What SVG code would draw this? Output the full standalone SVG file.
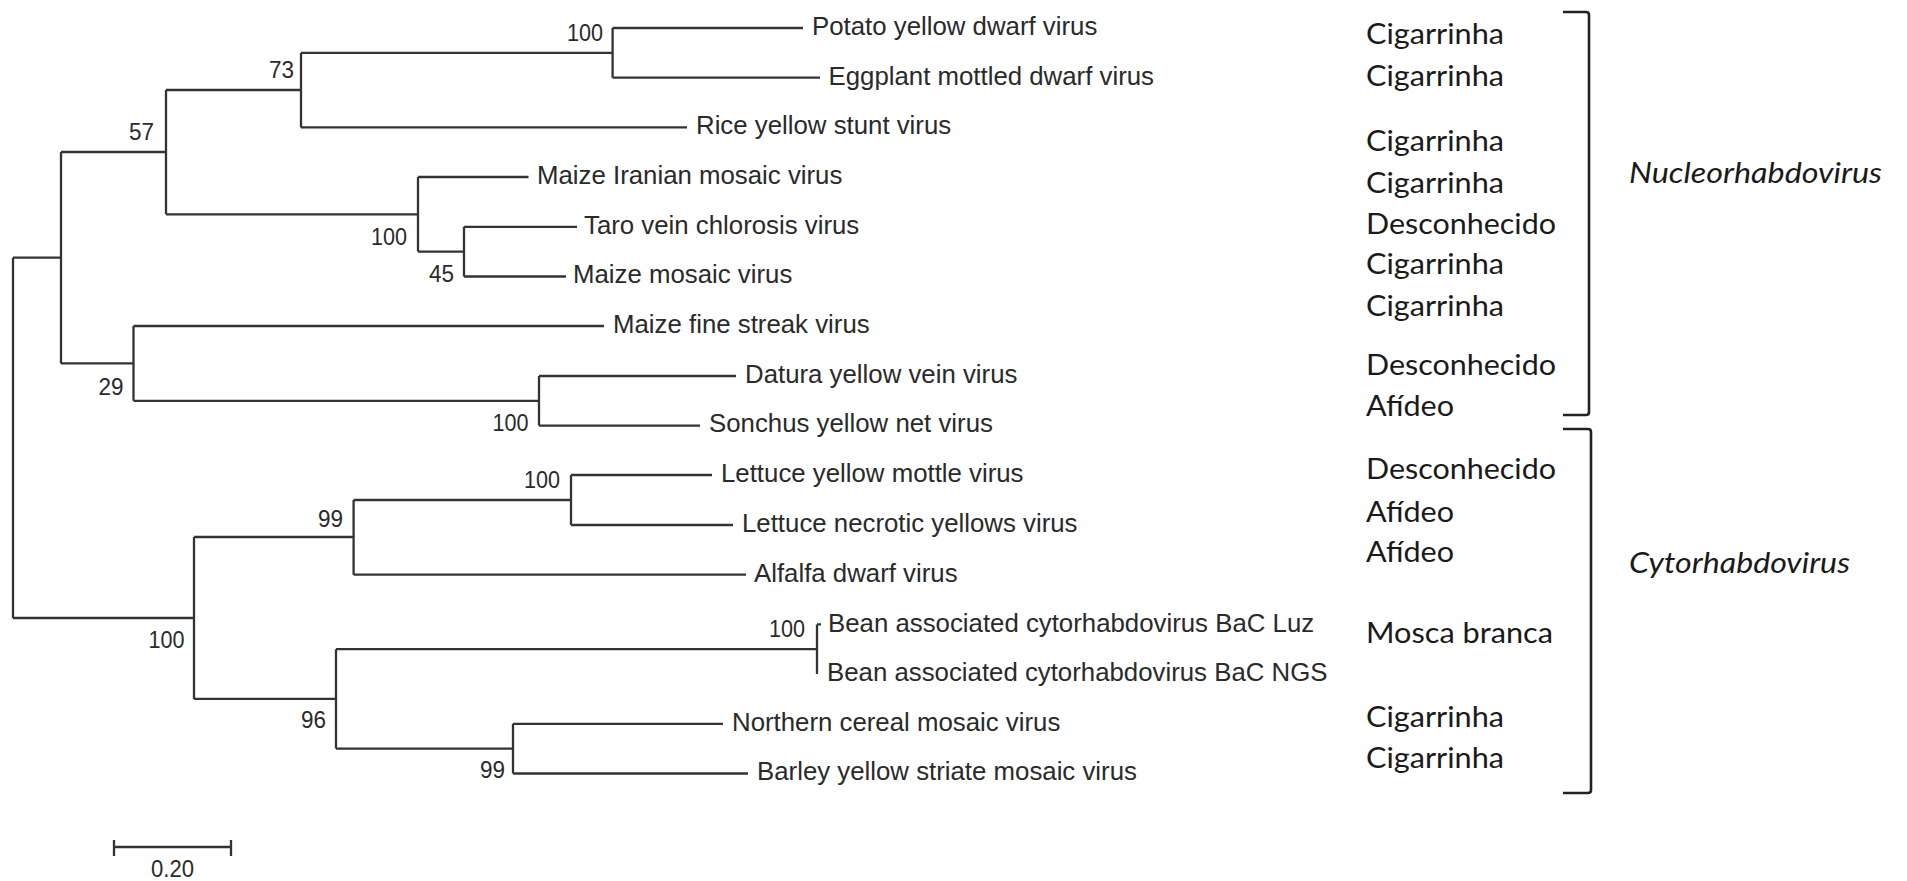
<svg xmlns="http://www.w3.org/2000/svg" width="1907" height="881" viewBox="0 0 1907 881">
<style>
  .br { fill: none; stroke: #333; stroke-width: 2.3; stroke-linejoin: miter; }
  .bk { fill: none; stroke: #222; stroke-width: 2.6; }
  .leaf { font-family: "Liberation Sans", Arial, sans-serif; font-size: 25.8px; fill: #2a2a2a; }
  .bs { font-family: "Liberation Sans", Arial, sans-serif; font-size: 24px; fill: #2a2a2a; text-anchor: end; }
  .vec { font-family: Lato, "Open Sans", sans-serif; font-size: 28px; fill: #1a1a1a; }
  .gen { font-family: Lato, "Open Sans", sans-serif; font-size: 28px; font-style: italic; fill: #1a1a1a; }
</style>
<rect width="1907" height="881" fill="#fff"/>

<g id="connectors">
  <path class="br" d="M13,257.7 V618 M13,257.7 H61 M13,618 H194
    M61,152 V363.4 M61,152 H166 M61,363.4 H133.5
    M166,90 V214.3 M166,90 H301 M166,214.3 H418
    M301,52.9 V127.4 M301,52.9 H612.6 M301,127.4 H687
    M612.6,28 V77.7 M612.6,28 H803 M612.6,77.7 H820
    M418,177 V251.6 M418,177 H528.5 M418,251.6 H464
    M464,226.8 V276.5 M464,226.8 H577 M464,276.5 H566
    M133.5,326 V400.8 M133.5,326 H604 M133.5,400.8 H539
    M539,376 V425.6 M539,376 H736 M539,425.6 H700
    M194,537 V698.9 M194,537 H353.6 M194,698.9 H336
    M353.6,500 V574.7 M353.6,500 H571 M353.6,574.7 H746
    M571,475 V525 M571,475 H712 M571,525 H733
    M336,649.2 V748.6 M336,649.2 H817 M336,748.6 H513
    M817,624.4 V674 M817,624.4 H821
    M513,723.8 V773.5 M513,723.8 H723 M513,773.5 H748"/>
</g>

<g id="bootstrap">
  <text class="bs" x="603" y="41" textLength="36" lengthAdjust="spacingAndGlyphs">100</text>
  <text class="bs" x="294" y="78" textLength="25" lengthAdjust="spacingAndGlyphs">73</text>
  <text class="bs" x="154" y="140" textLength="25" lengthAdjust="spacingAndGlyphs">57</text>
  <text class="bs" x="407" y="245" textLength="36" lengthAdjust="spacingAndGlyphs">100</text>
  <text class="bs" x="454" y="282" textLength="25" lengthAdjust="spacingAndGlyphs">45</text>
  <text class="bs" x="123.5" y="395" textLength="25" lengthAdjust="spacingAndGlyphs">29</text>
  <text class="bs" x="528.5" y="431" textLength="36" lengthAdjust="spacingAndGlyphs">100</text>
  <text class="bs" x="560" y="488" textLength="36" lengthAdjust="spacingAndGlyphs">100</text>
  <text class="bs" x="343" y="527" textLength="25" lengthAdjust="spacingAndGlyphs">99</text>
  <text class="bs" x="184.5" y="648" textLength="36" lengthAdjust="spacingAndGlyphs">100</text>
  <text class="bs" x="805" y="637" textLength="36" lengthAdjust="spacingAndGlyphs">100</text>
  <text class="bs" x="326" y="728" textLength="25" lengthAdjust="spacingAndGlyphs">96</text>
  <text class="bs" x="505" y="778" textLength="25" lengthAdjust="spacingAndGlyphs">99</text>
</g>

<g id="leaf-pydv"><text class="leaf" x="812" y="34.8">Potato yellow dwarf virus</text></g>
<g id="leaf-emdv"><text class="leaf" x="828.5" y="84.5">Eggplant mottled dwarf virus</text></g>
<g id="leaf-rysv"><text class="leaf" x="696" y="134.2">Rice yellow stunt virus</text></g>
<g id="leaf-mimv"><text class="leaf" x="537" y="183.8">Maize Iranian mosaic virus</text></g>
<g id="leaf-tavcv"><text class="leaf" x="584" y="233.6">Taro vein chlorosis virus</text></g>
<g id="leaf-mmv"><text class="leaf" x="573" y="283.3">Maize mosaic virus</text></g>
<g id="leaf-mfsv"><text class="leaf" x="613" y="332.8">Maize fine streak virus</text></g>
<g id="leaf-dyvv"><text class="leaf" x="745" y="382.8">Datura yellow vein virus</text></g>
<g id="leaf-synv"><text class="leaf" x="709" y="432.4">Sonchus yellow net virus</text></g>
<g id="leaf-lymov"><text class="leaf" x="721" y="481.8">Lettuce yellow mottle virus</text></g>
<g id="leaf-lnyv"><text class="leaf" x="742" y="531.8">Lettuce necrotic yellows virus</text></g>
<g id="leaf-adv"><text class="leaf" x="754" y="581.5">Alfalfa dwarf virus</text></g>
<g id="leaf-bac-luz"><text class="leaf" x="828" y="631.5">Bean associated cytorhabdovirus BaC Luz</text></g>
<g id="leaf-bac-ngs"><text class="leaf" x="827" y="681">Bean associated cytorhabdovirus BaC NGS</text></g>
<g id="leaf-ncmv"><text class="leaf" x="732" y="730.6">Northern cereal mosaic virus</text></g>
<g id="leaf-bysmv"><text class="leaf" x="757" y="780.3">Barley yellow striate mosaic virus</text></g>

<g id="vectors">
  <text class="vec" x="1366" y="44" textLength="138" lengthAdjust="spacingAndGlyphs">Cigarrinha</text>
  <text class="vec" x="1366" y="86" textLength="138" lengthAdjust="spacingAndGlyphs">Cigarrinha</text>
  <text class="vec" x="1366" y="151" textLength="138" lengthAdjust="spacingAndGlyphs">Cigarrinha</text>
  <text class="vec" x="1366" y="193" textLength="138" lengthAdjust="spacingAndGlyphs">Cigarrinha</text>
  <text class="vec" x="1366" y="234" textLength="190" lengthAdjust="spacingAndGlyphs">Desconhecido</text>
  <text class="vec" x="1366" y="274" textLength="138" lengthAdjust="spacingAndGlyphs">Cigarrinha</text>
  <text class="vec" x="1366" y="316" textLength="138" lengthAdjust="spacingAndGlyphs">Cigarrinha</text>
  <text class="vec" x="1366" y="375" textLength="190" lengthAdjust="spacingAndGlyphs">Desconhecido</text>
  <text class="vec" x="1366" y="416" textLength="88" lengthAdjust="spacingAndGlyphs">Afídeo</text>
  <text class="vec" x="1366" y="479" textLength="190" lengthAdjust="spacingAndGlyphs">Desconhecido</text>
  <text class="vec" x="1366" y="522" textLength="88" lengthAdjust="spacingAndGlyphs">Afídeo</text>
  <text class="vec" x="1366" y="562" textLength="88" lengthAdjust="spacingAndGlyphs">Afídeo</text>
  <text class="vec" x="1366" y="643" textLength="187" lengthAdjust="spacingAndGlyphs">Mosca branca</text>
  <text class="vec" x="1366" y="727" textLength="138" lengthAdjust="spacingAndGlyphs">Cigarrinha</text>
  <text class="vec" x="1366" y="768" textLength="138" lengthAdjust="spacingAndGlyphs">Cigarrinha</text>
</g>

<g id="group-nucleorhabdovirus">
  <path class="bk" d="M1563,12 H1586 Q1589,12 1589,15 V412 Q1589,415 1586,415 H1563"/>
  <text class="gen" x="1629" y="183" textLength="253" lengthAdjust="spacingAndGlyphs">Nucleorhabdovirus</text>
</g>
<g id="group-cytorhabdovirus">
  <path class="bk" d="M1563,429 H1588 Q1591,429 1591,432 V790 Q1591,793 1588,793 H1563"/>
  <text class="gen" x="1629" y="573" textLength="221" lengthAdjust="spacingAndGlyphs">Cytorhabdovirus</text>
</g>

<g id="scale-bar">
  <path class="br" d="M114,847 H231 M114,840 V856 M231,840 V856"/>
  <text class="bs" x="172.5" y="877" textLength="43" lengthAdjust="spacingAndGlyphs" style="text-anchor: middle">0.20</text>
</g>
</svg>
